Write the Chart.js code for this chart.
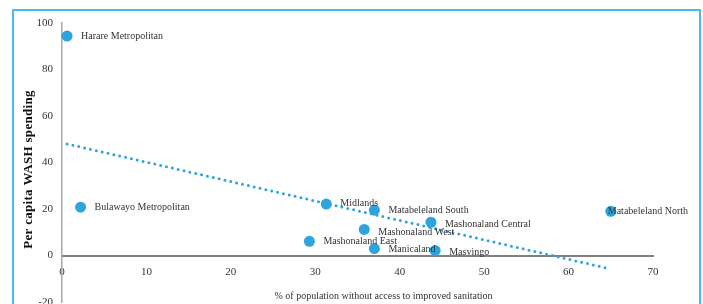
<!DOCTYPE html>
<html>
<head>
<meta charset="utf-8">
<script src="https://cdn.jsdelivr.net/npm/chart.js@4.4.1/dist/chart.umd.min.js"></script>
<style>
  html, body { margin: 0; padding: 0; overflow: hidden; background: #fff; width: 703px; height: 304px; }
  #frame { position: absolute; left: 12px; top: 9px; width: 685px; height: 400px; border: 2px solid #45bdf0; box-sizing: content-box; }
  #c { position: absolute; left: 0; top: 0; }
</style>
</head>
<body>
<div id="frame"></div>
<canvas id="c" width="703" height="360"></canvas>
<script>
// ---- data ----
const provinces = [
  "Harare Metropolitan", "Bulawayo Metropolitan", "Midlands", "Matabeleland South",
  "Mashonaland Central", "Mashonaland West", "Mashonaland East", "Manicaland",
  "Masvingo", "Matabeleland North"
];
const noSanitationPct = [0.6, 2.2, 31.3, 37.0, 43.7, 35.8, 29.3, 37.0, 44.2, 65.0];
const washSpending    = [94.4, 20.8, 22.1, 19.5, 14.3, 11.2, 6.1, 3.0, 2.2, 19.0];
const trendX = [0.6, 65.0];
const trendY = [48.0, -5.8];
const xTickValues = [0, 10, 20, 30, 40, 50, 60, 70];
const yTickValues = [-20, 0, 20, 40, 60, 80, 100];
const xTitle = "% of population without access to improved sanitation";
const yTitle = "Per capita WASH spending";

// ---- styling ----
const BLUE = '#2ea4de';
const SERIF = '"Liberation Serif", "DejaVu Serif", serif';
const labelOffsets = { "Matabeleland North": [-3, 0], "Midlands": [14, -1], "Mashonaland West": [14, 2.5],
  "Mashonaland Central": [14, 2], "Manicaland": [14, 1], "Masvingo": [14, 1.5] };

const textPlugin = {
  id: 'textPlugin',
  afterDatasetsDraw(chart) {
    const ctx = chart.ctx;
    const meta = chart.getDatasetMeta(1);
    ctx.save();
    ctx.font = '10px ' + SERIF;
    ctx.fillStyle = '#333333';
    ctx.textAlign = 'left';
    ctx.textBaseline = 'middle';
    meta.data.forEach((pt, i) => {
      const name = provinces[i];
      const off = labelOffsets[name] || [14, 0];
      ctx.fillText(name, pt.x + off[0], pt.y + off[1]);
    });
    ctx.restore();
  },
  afterDraw(chart) {
    const ctx = chart.ctx;
    const a = chart.chartArea;
    // x axis title
    ctx.save();
    ctx.font = '10px ' + SERIF;
    ctx.fillStyle = '#333333';
    ctx.textAlign = 'center';
    ctx.textBaseline = 'middle';
    ctx.fillText(xTitle, (a.left + a.right) / 2 + 26, 296);
    ctx.restore();
    // y axis title
    ctx.save();
    ctx.translate(29, (a.top + a.bottom) / 2 + 7);
    ctx.rotate(-Math.PI / 2);
    ctx.font = 'bold 13px ' + SERIF;
    if ('letterSpacing' in ctx) ctx.letterSpacing = '0.3px';
    ctx.fillStyle = '#111111';
    ctx.textAlign = 'center';
    ctx.textBaseline = 'middle';
    ctx.fillText(yTitle, 0, 0);
    ctx.restore();
  }
};

new Chart(document.getElementById('c'), {
  data: {
    datasets: [
      {
        type: 'line',
        label: 'Trend',
        data: trendX.map((x, i) => ({ x: x, y: trendY[i] })),
        borderColor: BLUE,
        borderWidth: 3,
        borderDash: [0, 6],
        borderCapStyle: 'round',
        pointRadius: 0,
        fill: false,
        clip: false
      },
      {
        type: 'scatter',
        label: 'Provinces',
        data: noSanitationPct.map((x, i) => ({ x: x, y: washSpending[i] })),
        backgroundColor: BLUE,
        borderWidth: 0,
        pointRadius: 5.5,
        pointHoverRadius: 5.5,
        clip: false
      }
    ]
  },
  options: {
    responsive: false,
    animation: false,
    events: [],
    layout: { padding: { left: 0, top: 23, right: 50, bottom: 58 } },
    plugins: { legend: { display: false }, tooltip: { enabled: false } },
    scales: {
      x: {
        type: 'linear',
        position: { y: 0 },
        min: 0, max: 70,
        afterBuildTicks(scale) { scale.ticks = xTickValues.map(v => ({ value: v })); },
        grid: { display: false, drawTicks: false },
        border: { display: true, color: '#808080', width: 2 },
        ticks: { padding: 10, color: '#333333', font: { family: SERIF, size: 11 }, maxRotation: 0 },
        title: { display: false }
      },
      y: {
        type: 'linear',
        position: 'left',
        min: -20, max: 100,
        afterBuildTicks(scale) { scale.ticks = yTickValues.map(v => ({ value: v })); },
        afterFit(scale) { scale.width = 62; },
        grid: { display: false, drawTicks: false },
        border: { display: true, color: '#a8a8a8', width: 1.5 },
        ticks: { padding: 9, color: '#333333', font: { family: SERIF, size: 11 } },
        title: { display: false }
      }
    }
  },
  plugins: [textPlugin]
});
</script>
</body>
</html>
